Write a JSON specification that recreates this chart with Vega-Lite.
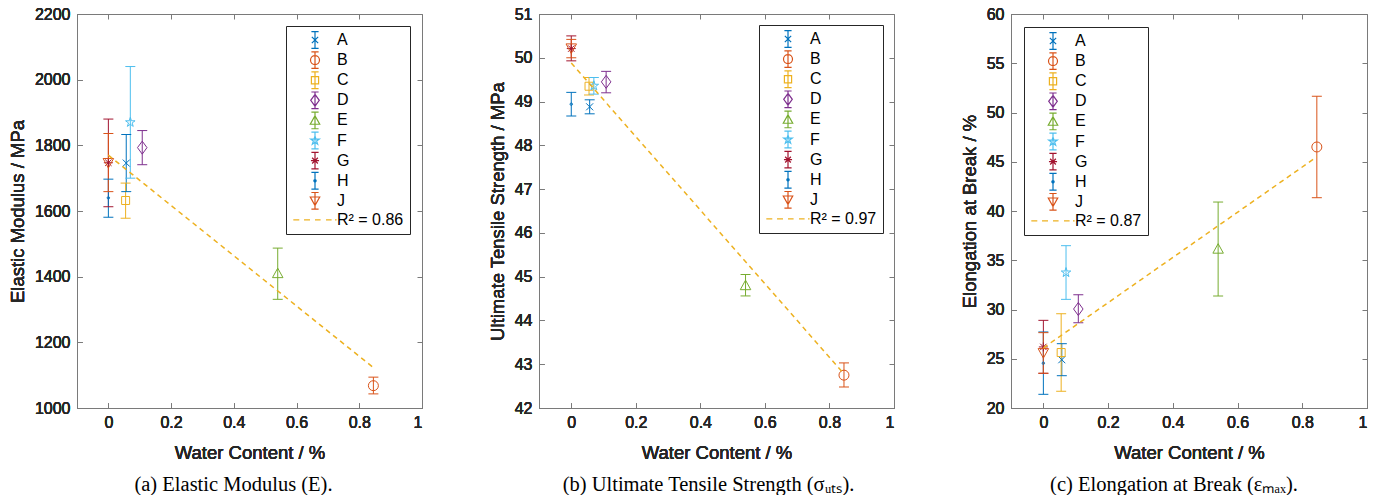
{
  "$schema": "https://vega.github.io/schema/vega-lite/v6.json",
  "padding": {"left": 8, "top": 6, "right": 5, "bottom": 0},
  "background": "white",
  "bounds": "flush",
  "spacing": 117,
  "config": {
    "view": {"stroke": null},
    "font": "Liberation Sans",
    "style": {"guide-title": {"fontWeight": "normal"}},
    "axis": {
      "grid": false, "domainColor": "#7a7a7a", "tickColor": "#7a7a7a",
      "labelColor": "#262626", "titleColor": "#262626",
      "labelFont": "Liberation Sans", "titleFont": "Liberation Sans",
      "labelFontSize": 16, "titleFontSize": 18.5, "titleFontWeight": "normal",
      "tickSize": -5, "domainWidth": 1, "tickWidth": 1
    },
    "axisX": {"labelPadding": 11, "titlePadding": 13},
    "axisY": {"labelPadding": 12, "titlePadding": 7},
    "title": {"font": "Liberation Serif", "fontSize": 20.5, "fontWeight": 400, "color": "#000000", "orient": "bottom", "anchor": "middle", "offset": 13}
  },
  "datasets": {
    "elastic": [
      {"s": "A", "w": 0.057, "v": 1746, "lo": 1659, "hi": 1833},
      {"s": "B", "w": 0.845, "v": 1068, "lo": 1043, "hi": 1094},
      {"s": "C", "w": 0.055, "v": 1632, "lo": 1578, "hi": 1685},
      {"s": "D", "w": 0.108, "v": 1793, "lo": 1741, "hi": 1845},
      {"s": "E", "w": 0.54, "v": 1410, "lo": 1331, "hi": 1487},
      {"s": "F", "w": 0.07, "v": 1870, "lo": 1700, "hi": 2040},
      {"s": "G", "w": 0, "v": 1747, "lo": 1613, "hi": 1880},
      {"s": "H", "w": 0, "v": 1640, "lo": 1581, "hi": 1697},
      {"s": "J", "w": 0, "v": 1747, "lo": 1659, "hi": 1836}
    ],
    "uts": [
      {"s": "A", "w": 0.057, "v": 48.88, "lo": 48.72, "hi": 49.04},
      {"s": "B", "w": 0.845, "v": 42.75, "lo": 42.48, "hi": 43.03},
      {"s": "C", "w": 0.055, "v": 49.35, "lo": 49.15, "hi": 49.55},
      {"s": "D", "w": 0.108, "v": 49.45, "lo": 49.2, "hi": 49.69},
      {"s": "E", "w": 0.54, "v": 44.8, "lo": 44.56, "hi": 45.05},
      {"s": "F", "w": 0.07, "v": 49.36, "lo": 49.17, "hi": 49.55},
      {"s": "G", "w": 0, "v": 50.21, "lo": 49.93, "hi": 50.5},
      {"s": "H", "w": 0, "v": 48.94, "lo": 48.67, "hi": 49.21},
      {"s": "J", "w": 0, "v": 50.22, "lo": 50.0, "hi": 50.42}
    ],
    "elong": [
      {"s": "A", "w": 0.057, "v": 24.9, "lo": 23.28, "hi": 26.53},
      {"s": "B", "w": 0.845, "v": 46.5, "lo": 41.35, "hi": 51.65},
      {"s": "C", "w": 0.055, "v": 25.63, "lo": 21.7, "hi": 29.57},
      {"s": "D", "w": 0.108, "v": 30.05, "lo": 28.66, "hi": 31.5},
      {"s": "E", "w": 0.54, "v": 36.15, "lo": 31.37, "hi": 40.91},
      {"s": "F", "w": 0.07, "v": 33.75, "lo": 31.03, "hi": 36.48},
      {"s": "G", "w": 0, "v": 26.2, "lo": 23.52, "hi": 28.9},
      {"s": "H", "w": 0, "v": 24.55, "lo": 21.39, "hi": 27.72},
      {"s": "J", "w": 0, "v": 25.6, "lo": 23.53, "hi": 27.65}
    ],
    "fitE": [{"w": 0, "v": 1770}, {"w": 0.845, "v": 1123}],
    "fitU": [{"w": 0, "v": 49.88}, {"w": 0.845, "v": 42.78}],
    "fitL": [{"w": 0, "v": 26.1}, {"w": 0.845, "v": 45.5}]
  },
  "hconcat": [
    {
      "width": 345, "height": 394,
      "title": {"text": "(a) Elastic Modulus (E).", "dx": -16},
      "data": {"name": "elastic"},
      "resolve": {"scale": {"shape": "independent", "stroke": "independent"}},
      "layer": [
        {"mark": {"type": "rule", "strokeWidth": 1},
         "encoding": {
           "x": {"field": "w", "type": "quantitative", "scale": {"domain": [-0.1, 1], "nice": false, "zero": false}, "axis": {"title": "Water Content / %", "orient": "bottom", "values": [0, 0.2, 0.4, 0.6, 0.8, 1], "format": "~g", "encode": {"title": {"update": {"fontWeight": {"value": "normal"}}}}}},
           "y": {"field": "lo", "type": "quantitative", "scale": {"domain": [1000, 2200], "nice": false, "zero": false}, "axis": {"title": "Elastic Modulus / MPa", "orient": "left", "values": [1000, 1200, 1400, 1600, 1800, 2000, 2200], "format": "d", "encode": {"title": {"update": {"fontWeight": {"value": "normal"}}}}}},
           "y2": {"field": "hi"},
           "color": {"field": "s", "type": "nominal", "scale": {"domain": ["A","B","C","D","E","F","G","H","J"], "range": ["#0072BD","#D95319","#EDB120","#7E2F8E","#77AC30","#4DBEEE","#A2142F","#0072BD","#D95319"]}, "legend": null}
         }},
        {"mark": {"type": "tick", "orient": "horizontal", "size": 10, "thickness": 1, "opacity": 1},
         "encoding": {
           "x": {"field": "w", "type": "quantitative", "scale": {"domain": [-0.1, 1], "nice": false, "zero": false}, "axis": {"title": "Water Content / %", "orient": "bottom", "values": [0, 0.2, 0.4, 0.6, 0.8, 1], "format": "~g", "encode": {"title": {"update": {"fontWeight": {"value": "normal"}}}}}},
           "y": {"field": "lo", "type": "quantitative", "scale": {"domain": [1000, 2200], "nice": false, "zero": false}, "axis": {"title": "Elastic Modulus / MPa", "orient": "left", "values": [1000, 1200, 1400, 1600, 1800, 2000, 2200], "format": "d", "encode": {"title": {"update": {"fontWeight": {"value": "normal"}}}}}},
           "color": {"field": "s", "type": "nominal", "legend": null}
         }},
        {"mark": {"type": "tick", "orient": "horizontal", "size": 10, "thickness": 1, "opacity": 1},
         "encoding": {
           "x": {"field": "w", "type": "quantitative", "scale": {"domain": [-0.1, 1], "nice": false, "zero": false}, "axis": {"title": "Water Content / %", "orient": "bottom", "values": [0, 0.2, 0.4, 0.6, 0.8, 1], "format": "~g", "encode": {"title": {"update": {"fontWeight": {"value": "normal"}}}}}},
           "y": {"field": "hi", "type": "quantitative", "scale": {"domain": [1000, 2200], "nice": false, "zero": false}, "axis": {"title": "Elastic Modulus / MPa", "orient": "left", "values": [1000, 1200, 1400, 1600, 1800, 2000, 2200], "format": "d", "encode": {"title": {"update": {"fontWeight": {"value": "normal"}}}}}},
           "color": {"field": "s", "type": "nominal", "legend": null}
         }},
        {"mark": {"type": "point", "filled": false, "size": 100, "strokeWidth": 1, "opacity": 1},
         "encoding": {
           "x": {"field": "w", "type": "quantitative", "scale": {"domain": [-0.1, 1], "nice": false, "zero": false}, "axis": {"title": "Water Content / %", "orient": "bottom", "values": [0, 0.2, 0.4, 0.6, 0.8, 1], "format": "~g", "encode": {"title": {"update": {"fontWeight": {"value": "normal"}}}}}},
           "y": {"field": "v", "type": "quantitative", "scale": {"domain": [1000, 2200], "nice": false, "zero": false}, "axis": {"title": "Elastic Modulus / MPa", "orient": "left", "values": [1000, 1200, 1400, 1600, 1800, 2000, 2200], "format": "d", "encode": {"title": {"update": {"fontWeight": {"value": "normal"}}}}}},
           "color": {"field": "s", "type": "nominal", "legend": null},
           "shape": {"field": "s", "type": "nominal", "legend": null, "scale": {"domain": ["A","B","C","D","E","F","G","H","J"], "range": [
             "M-0.7,-0.7L0.7,0.7M-0.7,0.7L0.7,-0.7",
             "M1,0A1,1,0,1,1,-1,0A1,1,0,1,1,1,0Z",
             "M-0.8,-0.8H0.8V0.8H-0.8Z",
             "M0,-1.3L0.95,0L0,1.3L-0.95,0Z",
             "M0,-1.05L1.05,0.85H-1.05Z",
             "M0,-1L0.2245,-0.309L0.951,-0.309L0.3633,0.118L0.588,0.809L0,0.382L-0.588,0.809L-0.3633,0.118L-0.951,-0.309L-0.2245,-0.309Z",
             "M0,-0.9V0.9M-0.9,0H0.9M-0.64,-0.64L0.64,0.64M-0.64,0.64L0.64,-0.64",
             "M0.25,0A0.25,0.25,0,1,1,-0.25,0A0.25,0.25,0,1,1,0.25,0Z",
             "M0,1.05L1.05,-0.85H-1.05Z"]}}
         }},
        {"data": {"name": "fitE"},
         "mark": {"type": "line", "color": "#EDB120", "strokeDash": [5, 4], "strokeWidth": 1.5},
         "encoding": {
           "x": {"field": "w", "type": "quantitative", "scale": {"domain": [-0.1, 1], "nice": false, "zero": false}, "axis": {"orient": "top", "title": null, "labels": false, "values": [0, 0.2, 0.4, 0.6, 0.8, 1]}},
           "y": {"field": "v", "type": "quantitative", "scale": {"domain": [1000, 2200], "nice": false, "zero": false}, "axis": {"orient": "right", "title": null, "labels": false, "values": [1000, 1200, 1400, 1600, 1800, 2000, 2200]}}
         }},
        {"transform": [{"filter": "false"}],
         "mark": {"type": "point", "filled": false, "opacity": 1},
         "encoding": {
           "x": {"field": "w", "type": "quantitative", "scale": {"domain": [-0.1, 1], "nice": false, "zero": false}, "axis": {"title": "Water Content / %", "orient": "bottom", "values": [0, 0.2, 0.4, 0.6, 0.8, 1], "format": "~g", "encode": {"title": {"update": {"fontWeight": {"value": "normal"}}}}}},
           "y": {"field": "v", "type": "quantitative", "scale": {"domain": [1000, 2200], "nice": false, "zero": false}, "axis": {"title": "Elastic Modulus / MPa", "orient": "left", "values": [1000, 1200, 1400, 1600, 1800, 2000, 2200], "format": "d", "encode": {"title": {"update": {"fontWeight": {"value": "normal"}}}}}},
           "shape": {"field": "s", "type": "nominal", "scale": {"domain": ["A","B","C","D","E","F","G","H","J","R² = 0.86"], "range": [
             "M-0.7,-0.7L0.7,0.7M-0.7,0.7L0.7,-0.7M0,-1.85V1.85M-0.8,-1.85H0.8M-0.8,1.85H0.8",
             "M1,0A1,1,0,1,1,-1,0A1,1,0,1,1,1,0ZM0,-1.85V1.85M-0.8,-1.85H0.8M-0.8,1.85H0.8",
             "M-0.8,-0.8H0.8V0.8H-0.8ZM0,-1.85V1.85M-0.8,-1.85H0.8M-0.8,1.85H0.8",
             "M0,-1.3L0.95,0L0,1.3L-0.95,0ZM0,-1.85V1.85M-0.8,-1.85H0.8M-0.8,1.85H0.8",
             "M0,-1.05L1.05,0.85H-1.05ZM0,-1.85V1.85M-0.8,-1.85H0.8M-0.8,1.85H0.8",
             "M0,-1L0.2245,-0.309L0.951,-0.309L0.3633,0.118L0.588,0.809L0,0.382L-0.588,0.809L-0.3633,0.118L-0.951,-0.309L-0.2245,-0.309ZM0,-1.85V1.85M-0.8,-1.85H0.8M-0.8,1.85H0.8",
             "M0,-0.9V0.9M-0.9,0H0.9M-0.64,-0.64L0.64,0.64M-0.64,0.64L0.64,-0.64M0,-1.85V1.85M-0.8,-1.85H0.8M-0.8,1.85H0.8",
             "M0.25,0A0.25,0.25,0,1,1,-0.25,0A0.25,0.25,0,1,1,0.25,0ZM0,-1.85V1.85M-0.8,-1.85H0.8M-0.8,1.85H0.8",
             "M0,1.05L1.05,-0.85H-1.05ZM0,-1.85V1.85M-0.8,-1.85H0.8M-0.8,1.85H0.8",
             "M-4.82,0H-3.49M-2.44,0H-1.11M0,0H1.24M2.44,0H3.69M4.44,0H4.8"]},
             "legend": {"title": null, "orient": "top-right", "offset": 12, "padding": 6, "strokeColor": "#262626", "fillColor": "white", "labelFont": "Liberation Sans", "labelFontSize": 16, "labelColor": "#000000", "symbolSize": 81, "symbolStrokeWidth": 1.2, "symbolFillColor": "transparent", "symbolOffset": 15, "labelOffset": 14, "rowPadding": -1.9}},
           "stroke": {"field": "s", "type": "nominal", "scale": {"domain": ["A","B","C","D","E","F","G","H","J","R² = 0.86"], "range": ["#0072BD","#D95319","#EDB120","#7E2F8E","#77AC30","#4DBEEE","#A2142F","#0072BD","#D95319","#EDB120"]},
             "legend": {"title": null, "orient": "top-right", "offset": 12, "padding": 6, "strokeColor": "#262626", "fillColor": "white", "labelFont": "Liberation Sans", "labelFontSize": 16, "labelColor": "#000000", "symbolSize": 81, "symbolStrokeWidth": 1.2, "symbolFillColor": "transparent", "symbolOffset": 15, "labelOffset": 14, "rowPadding": -1.9}}
         }}
      ]
    },
    {
      "width": 355, "height": 394,
      "title": {"text": "(b) Ultimate Tensile Strength (σᵤₜₛ).", "dx": -8},
      "data": {"name": "uts"},
      "resolve": {"scale": {"shape": "independent", "stroke": "independent"}},
      "layer": [
        {"mark": {"type": "rule", "strokeWidth": 1},
         "encoding": {
           "x": {"field": "w", "type": "quantitative", "scale": {"domain": [-0.1, 1], "nice": false, "zero": false}, "axis": {"title": "Water Content / %", "orient": "bottom", "values": [0, 0.2, 0.4, 0.6, 0.8, 1], "format": "~g", "encode": {"title": {"update": {"fontWeight": {"value": "normal"}}}}}},
           "y": {"field": "lo", "type": "quantitative", "scale": {"domain": [42, 51], "nice": false, "zero": false}, "axis": {"title": "Ultimate Tensile Strength / MPa", "orient": "left", "values": [42, 43, 44, 45, 46, 47, 48, 49, 50, 51], "format": "d", "encode": {"title": {"update": {"fontWeight": {"value": "normal"}}}}}},
           "y2": {"field": "hi"},
           "color": {"field": "s", "type": "nominal", "scale": {"domain": ["A","B","C","D","E","F","G","H","J"], "range": ["#0072BD","#D95319","#EDB120","#7E2F8E","#77AC30","#4DBEEE","#A2142F","#0072BD","#D95319"]}, "legend": null}
         }},
        {"mark": {"type": "tick", "orient": "horizontal", "size": 10, "thickness": 1, "opacity": 1},
         "encoding": {
           "x": {"field": "w", "type": "quantitative", "scale": {"domain": [-0.1, 1], "nice": false, "zero": false}, "axis": {"title": "Water Content / %", "orient": "bottom", "values": [0, 0.2, 0.4, 0.6, 0.8, 1], "format": "~g", "encode": {"title": {"update": {"fontWeight": {"value": "normal"}}}}}},
           "y": {"field": "lo", "type": "quantitative", "scale": {"domain": [42, 51], "nice": false, "zero": false}, "axis": {"title": "Ultimate Tensile Strength / MPa", "orient": "left", "values": [42, 43, 44, 45, 46, 47, 48, 49, 50, 51], "format": "d", "encode": {"title": {"update": {"fontWeight": {"value": "normal"}}}}}},
           "color": {"field": "s", "type": "nominal", "legend": null}
         }},
        {"mark": {"type": "tick", "orient": "horizontal", "size": 10, "thickness": 1, "opacity": 1},
         "encoding": {
           "x": {"field": "w", "type": "quantitative", "scale": {"domain": [-0.1, 1], "nice": false, "zero": false}, "axis": {"title": "Water Content / %", "orient": "bottom", "values": [0, 0.2, 0.4, 0.6, 0.8, 1], "format": "~g", "encode": {"title": {"update": {"fontWeight": {"value": "normal"}}}}}},
           "y": {"field": "hi", "type": "quantitative", "scale": {"domain": [42, 51], "nice": false, "zero": false}, "axis": {"title": "Ultimate Tensile Strength / MPa", "orient": "left", "values": [42, 43, 44, 45, 46, 47, 48, 49, 50, 51], "format": "d", "encode": {"title": {"update": {"fontWeight": {"value": "normal"}}}}}},
           "color": {"field": "s", "type": "nominal", "legend": null}
         }},
        {"mark": {"type": "point", "filled": false, "size": 100, "strokeWidth": 1, "opacity": 1},
         "encoding": {
           "x": {"field": "w", "type": "quantitative", "scale": {"domain": [-0.1, 1], "nice": false, "zero": false}, "axis": {"title": "Water Content / %", "orient": "bottom", "values": [0, 0.2, 0.4, 0.6, 0.8, 1], "format": "~g", "encode": {"title": {"update": {"fontWeight": {"value": "normal"}}}}}},
           "y": {"field": "v", "type": "quantitative", "scale": {"domain": [42, 51], "nice": false, "zero": false}, "axis": {"title": "Ultimate Tensile Strength / MPa", "orient": "left", "values": [42, 43, 44, 45, 46, 47, 48, 49, 50, 51], "format": "d", "encode": {"title": {"update": {"fontWeight": {"value": "normal"}}}}}},
           "color": {"field": "s", "type": "nominal", "legend": null},
           "shape": {"field": "s", "type": "nominal", "legend": null, "scale": {"domain": ["A","B","C","D","E","F","G","H","J"], "range": [
             "M-0.7,-0.7L0.7,0.7M-0.7,0.7L0.7,-0.7",
             "M1,0A1,1,0,1,1,-1,0A1,1,0,1,1,1,0Z",
             "M-0.8,-0.8H0.8V0.8H-0.8Z",
             "M0,-1.3L0.95,0L0,1.3L-0.95,0Z",
             "M0,-1.05L1.05,0.85H-1.05Z",
             "M0,-1L0.2245,-0.309L0.951,-0.309L0.3633,0.118L0.588,0.809L0,0.382L-0.588,0.809L-0.3633,0.118L-0.951,-0.309L-0.2245,-0.309Z",
             "M0,-0.9V0.9M-0.9,0H0.9M-0.64,-0.64L0.64,0.64M-0.64,0.64L0.64,-0.64",
             "M0.25,0A0.25,0.25,0,1,1,-0.25,0A0.25,0.25,0,1,1,0.25,0Z",
             "M0,1.05L1.05,-0.85H-1.05Z"]}}
         }},
        {"data": {"name": "fitU"},
         "mark": {"type": "line", "color": "#EDB120", "strokeDash": [5, 4], "strokeWidth": 1.5},
         "encoding": {
           "x": {"field": "w", "type": "quantitative", "scale": {"domain": [-0.1, 1], "nice": false, "zero": false}, "axis": {"orient": "top", "title": null, "labels": false, "values": [0, 0.2, 0.4, 0.6, 0.8, 1]}},
           "y": {"field": "v", "type": "quantitative", "scale": {"domain": [42, 51], "nice": false, "zero": false}, "axis": {"orient": "right", "title": null, "labels": false, "values": [42, 43, 44, 45, 46, 47, 48, 49, 50, 51]}}
         }},
        {"transform": [{"filter": "false"}],
         "mark": {"type": "point", "filled": false, "opacity": 1},
         "encoding": {
           "x": {"field": "w", "type": "quantitative", "scale": {"domain": [-0.1, 1], "nice": false, "zero": false}, "axis": {"title": "Water Content / %", "orient": "bottom", "values": [0, 0.2, 0.4, 0.6, 0.8, 1], "format": "~g", "encode": {"title": {"update": {"fontWeight": {"value": "normal"}}}}}},
           "y": {"field": "v", "type": "quantitative", "scale": {"domain": [42, 51], "nice": false, "zero": false}, "axis": {"title": "Ultimate Tensile Strength / MPa", "orient": "left", "values": [42, 43, 44, 45, 46, 47, 48, 49, 50, 51], "format": "d", "encode": {"title": {"update": {"fontWeight": {"value": "normal"}}}}}},
           "shape": {"field": "s", "type": "nominal", "scale": {"domain": ["A","B","C","D","E","F","G","H","J","R² = 0.97"], "range": [
             "M-0.7,-0.7L0.7,0.7M-0.7,0.7L0.7,-0.7M0,-1.85V1.85M-0.8,-1.85H0.8M-0.8,1.85H0.8",
             "M1,0A1,1,0,1,1,-1,0A1,1,0,1,1,1,0ZM0,-1.85V1.85M-0.8,-1.85H0.8M-0.8,1.85H0.8",
             "M-0.8,-0.8H0.8V0.8H-0.8ZM0,-1.85V1.85M-0.8,-1.85H0.8M-0.8,1.85H0.8",
             "M0,-1.3L0.95,0L0,1.3L-0.95,0ZM0,-1.85V1.85M-0.8,-1.85H0.8M-0.8,1.85H0.8",
             "M0,-1.05L1.05,0.85H-1.05ZM0,-1.85V1.85M-0.8,-1.85H0.8M-0.8,1.85H0.8",
             "M0,-1L0.2245,-0.309L0.951,-0.309L0.3633,0.118L0.588,0.809L0,0.382L-0.588,0.809L-0.3633,0.118L-0.951,-0.309L-0.2245,-0.309ZM0,-1.85V1.85M-0.8,-1.85H0.8M-0.8,1.85H0.8",
             "M0,-0.9V0.9M-0.9,0H0.9M-0.64,-0.64L0.64,0.64M-0.64,0.64L0.64,-0.64M0,-1.85V1.85M-0.8,-1.85H0.8M-0.8,1.85H0.8",
             "M0.25,0A0.25,0.25,0,1,1,-0.25,0A0.25,0.25,0,1,1,0.25,0ZM0,-1.85V1.85M-0.8,-1.85H0.8M-0.8,1.85H0.8",
             "M0,1.05L1.05,-0.85H-1.05ZM0,-1.85V1.85M-0.8,-1.85H0.8M-0.8,1.85H0.8",
             "M-4.82,0H-3.49M-2.44,0H-1.11M0,0H1.24M2.44,0H3.69M4.44,0H4.8"]},
             "legend": {"title": null, "orient": "top-right", "offset": 11, "padding": 6, "strokeColor": "#262626", "fillColor": "white", "labelFont": "Liberation Sans", "labelFontSize": 16, "labelColor": "#000000", "symbolSize": 81, "symbolStrokeWidth": 1.2, "symbolFillColor": "transparent", "symbolOffset": 15, "labelOffset": 14, "rowPadding": -1.9}},
           "stroke": {"field": "s", "type": "nominal", "scale": {"domain": ["A","B","C","D","E","F","G","H","J","R² = 0.97"], "range": ["#0072BD","#D95319","#EDB120","#7E2F8E","#77AC30","#4DBEEE","#A2142F","#0072BD","#D95319","#EDB120"]},
             "legend": {"title": null, "orient": "top-right", "offset": 11, "padding": 6, "strokeColor": "#262626", "fillColor": "white", "labelFont": "Liberation Sans", "labelFontSize": 16, "labelColor": "#000000", "symbolSize": 81, "symbolStrokeWidth": 1.2, "symbolFillColor": "transparent", "symbolOffset": 15, "labelOffset": 14, "rowPadding": -1.9}}
         }}
      ]
    },
    {
      "width": 356, "height": 394,
      "title": {"text": "(c) Elongation at Break (εₘₐₓ).", "dx": -15},
      "data": {"name": "elong"},
      "resolve": {"scale": {"shape": "independent", "stroke": "independent"}},
      "layer": [
        {"mark": {"type": "rule", "strokeWidth": 1},
         "encoding": {
           "x": {"field": "w", "type": "quantitative", "scale": {"domain": [-0.1, 1], "nice": false, "zero": false}, "axis": {"title": "Water Content / %", "orient": "bottom", "values": [0, 0.2, 0.4, 0.6, 0.8, 1], "format": "~g", "encode": {"title": {"update": {"fontWeight": {"value": "normal"}}}}}},
           "y": {"field": "lo", "type": "quantitative", "scale": {"domain": [20, 60], "nice": false, "zero": false}, "axis": {"title": "Elongation at Break / %", "orient": "left", "values": [20, 25, 30, 35, 40, 45, 50, 55, 60], "format": "d", "encode": {"title": {"update": {"fontWeight": {"value": "normal"}}}}}},
           "y2": {"field": "hi"},
           "color": {"field": "s", "type": "nominal", "scale": {"domain": ["A","B","C","D","E","F","G","H","J"], "range": ["#0072BD","#D95319","#EDB120","#7E2F8E","#77AC30","#4DBEEE","#A2142F","#0072BD","#D95319"]}, "legend": null}
         }},
        {"mark": {"type": "tick", "orient": "horizontal", "size": 10, "thickness": 1, "opacity": 1},
         "encoding": {
           "x": {"field": "w", "type": "quantitative", "scale": {"domain": [-0.1, 1], "nice": false, "zero": false}, "axis": {"title": "Water Content / %", "orient": "bottom", "values": [0, 0.2, 0.4, 0.6, 0.8, 1], "format": "~g", "encode": {"title": {"update": {"fontWeight": {"value": "normal"}}}}}},
           "y": {"field": "lo", "type": "quantitative", "scale": {"domain": [20, 60], "nice": false, "zero": false}, "axis": {"title": "Elongation at Break / %", "orient": "left", "values": [20, 25, 30, 35, 40, 45, 50, 55, 60], "format": "d", "encode": {"title": {"update": {"fontWeight": {"value": "normal"}}}}}},
           "color": {"field": "s", "type": "nominal", "legend": null}
         }},
        {"mark": {"type": "tick", "orient": "horizontal", "size": 10, "thickness": 1, "opacity": 1},
         "encoding": {
           "x": {"field": "w", "type": "quantitative", "scale": {"domain": [-0.1, 1], "nice": false, "zero": false}, "axis": {"title": "Water Content / %", "orient": "bottom", "values": [0, 0.2, 0.4, 0.6, 0.8, 1], "format": "~g", "encode": {"title": {"update": {"fontWeight": {"value": "normal"}}}}}},
           "y": {"field": "hi", "type": "quantitative", "scale": {"domain": [20, 60], "nice": false, "zero": false}, "axis": {"title": "Elongation at Break / %", "orient": "left", "values": [20, 25, 30, 35, 40, 45, 50, 55, 60], "format": "d", "encode": {"title": {"update": {"fontWeight": {"value": "normal"}}}}}},
           "color": {"field": "s", "type": "nominal", "legend": null}
         }},
        {"mark": {"type": "point", "filled": false, "size": 100, "strokeWidth": 1, "opacity": 1},
         "encoding": {
           "x": {"field": "w", "type": "quantitative", "scale": {"domain": [-0.1, 1], "nice": false, "zero": false}, "axis": {"title": "Water Content / %", "orient": "bottom", "values": [0, 0.2, 0.4, 0.6, 0.8, 1], "format": "~g", "encode": {"title": {"update": {"fontWeight": {"value": "normal"}}}}}},
           "y": {"field": "v", "type": "quantitative", "scale": {"domain": [20, 60], "nice": false, "zero": false}, "axis": {"title": "Elongation at Break / %", "orient": "left", "values": [20, 25, 30, 35, 40, 45, 50, 55, 60], "format": "d", "encode": {"title": {"update": {"fontWeight": {"value": "normal"}}}}}},
           "color": {"field": "s", "type": "nominal", "legend": null},
           "shape": {"field": "s", "type": "nominal", "legend": null, "scale": {"domain": ["A","B","C","D","E","F","G","H","J"], "range": [
             "M-0.7,-0.7L0.7,0.7M-0.7,0.7L0.7,-0.7",
             "M1,0A1,1,0,1,1,-1,0A1,1,0,1,1,1,0Z",
             "M-0.8,-0.8H0.8V0.8H-0.8Z",
             "M0,-1.3L0.95,0L0,1.3L-0.95,0Z",
             "M0,-1.05L1.05,0.85H-1.05Z",
             "M0,-1L0.2245,-0.309L0.951,-0.309L0.3633,0.118L0.588,0.809L0,0.382L-0.588,0.809L-0.3633,0.118L-0.951,-0.309L-0.2245,-0.309Z",
             "M0,-0.9V0.9M-0.9,0H0.9M-0.64,-0.64L0.64,0.64M-0.64,0.64L0.64,-0.64",
             "M0.25,0A0.25,0.25,0,1,1,-0.25,0A0.25,0.25,0,1,1,0.25,0Z",
             "M0,1.05L1.05,-0.85H-1.05Z"]}}
         }},
        {"data": {"name": "fitL"},
         "mark": {"type": "line", "color": "#EDB120", "strokeDash": [5, 4], "strokeWidth": 1.5},
         "encoding": {
           "x": {"field": "w", "type": "quantitative", "scale": {"domain": [-0.1, 1], "nice": false, "zero": false}, "axis": {"orient": "top", "title": null, "labels": false, "values": [0, 0.2, 0.4, 0.6, 0.8, 1]}},
           "y": {"field": "v", "type": "quantitative", "scale": {"domain": [20, 60], "nice": false, "zero": false}, "axis": {"orient": "right", "title": null, "labels": false, "values": [20, 25, 30, 35, 40, 45, 50, 55, 60]}}
         }},
        {"transform": [{"filter": "false"}],
         "mark": {"type": "point", "filled": false, "opacity": 1},
         "encoding": {
           "x": {"field": "w", "type": "quantitative", "scale": {"domain": [-0.1, 1], "nice": false, "zero": false}, "axis": {"title": "Water Content / %", "orient": "bottom", "values": [0, 0.2, 0.4, 0.6, 0.8, 1], "format": "~g", "encode": {"title": {"update": {"fontWeight": {"value": "normal"}}}}}},
           "y": {"field": "v", "type": "quantitative", "scale": {"domain": [20, 60], "nice": false, "zero": false}, "axis": {"title": "Elongation at Break / %", "orient": "left", "values": [20, 25, 30, 35, 40, 45, 50, 55, 60], "format": "d", "encode": {"title": {"update": {"fontWeight": {"value": "normal"}}}}}},
           "shape": {"field": "s", "type": "nominal", "scale": {"domain": ["A","B","C","D","E","F","G","H","J","R² = 0.87"], "range": [
             "M-0.7,-0.7L0.7,0.7M-0.7,0.7L0.7,-0.7M0,-1.85V1.85M-0.8,-1.85H0.8M-0.8,1.85H0.8",
             "M1,0A1,1,0,1,1,-1,0A1,1,0,1,1,1,0ZM0,-1.85V1.85M-0.8,-1.85H0.8M-0.8,1.85H0.8",
             "M-0.8,-0.8H0.8V0.8H-0.8ZM0,-1.85V1.85M-0.8,-1.85H0.8M-0.8,1.85H0.8",
             "M0,-1.3L0.95,0L0,1.3L-0.95,0ZM0,-1.85V1.85M-0.8,-1.85H0.8M-0.8,1.85H0.8",
             "M0,-1.05L1.05,0.85H-1.05ZM0,-1.85V1.85M-0.8,-1.85H0.8M-0.8,1.85H0.8",
             "M0,-1L0.2245,-0.309L0.951,-0.309L0.3633,0.118L0.588,0.809L0,0.382L-0.588,0.809L-0.3633,0.118L-0.951,-0.309L-0.2245,-0.309ZM0,-1.85V1.85M-0.8,-1.85H0.8M-0.8,1.85H0.8",
             "M0,-0.9V0.9M-0.9,0H0.9M-0.64,-0.64L0.64,0.64M-0.64,0.64L0.64,-0.64M0,-1.85V1.85M-0.8,-1.85H0.8M-0.8,1.85H0.8",
             "M0.25,0A0.25,0.25,0,1,1,-0.25,0A0.25,0.25,0,1,1,0.25,0ZM0,-1.85V1.85M-0.8,-1.85H0.8M-0.8,1.85H0.8",
             "M0,1.05L1.05,-0.85H-1.05ZM0,-1.85V1.85M-0.8,-1.85H0.8M-0.8,1.85H0.8",
             "M-4.82,0H-3.49M-2.44,0H-1.11M0,0H1.24M2.44,0H3.69M4.44,0H4.8"]},
             "legend": {"title": null, "orient": "top-left", "offset": 13, "padding": 6, "strokeColor": "#262626", "fillColor": "white", "labelFont": "Liberation Sans", "labelFontSize": 16, "labelColor": "#000000", "symbolSize": 81, "symbolStrokeWidth": 1.2, "symbolFillColor": "transparent", "symbolOffset": 15, "labelOffset": 14, "rowPadding": -1.9}},
           "stroke": {"field": "s", "type": "nominal", "scale": {"domain": ["A","B","C","D","E","F","G","H","J","R² = 0.87"], "range": ["#0072BD","#D95319","#EDB120","#7E2F8E","#77AC30","#4DBEEE","#A2142F","#0072BD","#D95319","#EDB120"]},
             "legend": {"title": null, "orient": "top-left", "offset": 13, "padding": 6, "strokeColor": "#262626", "fillColor": "white", "labelFont": "Liberation Sans", "labelFontSize": 16, "labelColor": "#000000", "symbolSize": 81, "symbolStrokeWidth": 1.2, "symbolFillColor": "transparent", "symbolOffset": 15, "labelOffset": 14, "rowPadding": -1.9}}
         }}
      ]
    }
  ]
}
